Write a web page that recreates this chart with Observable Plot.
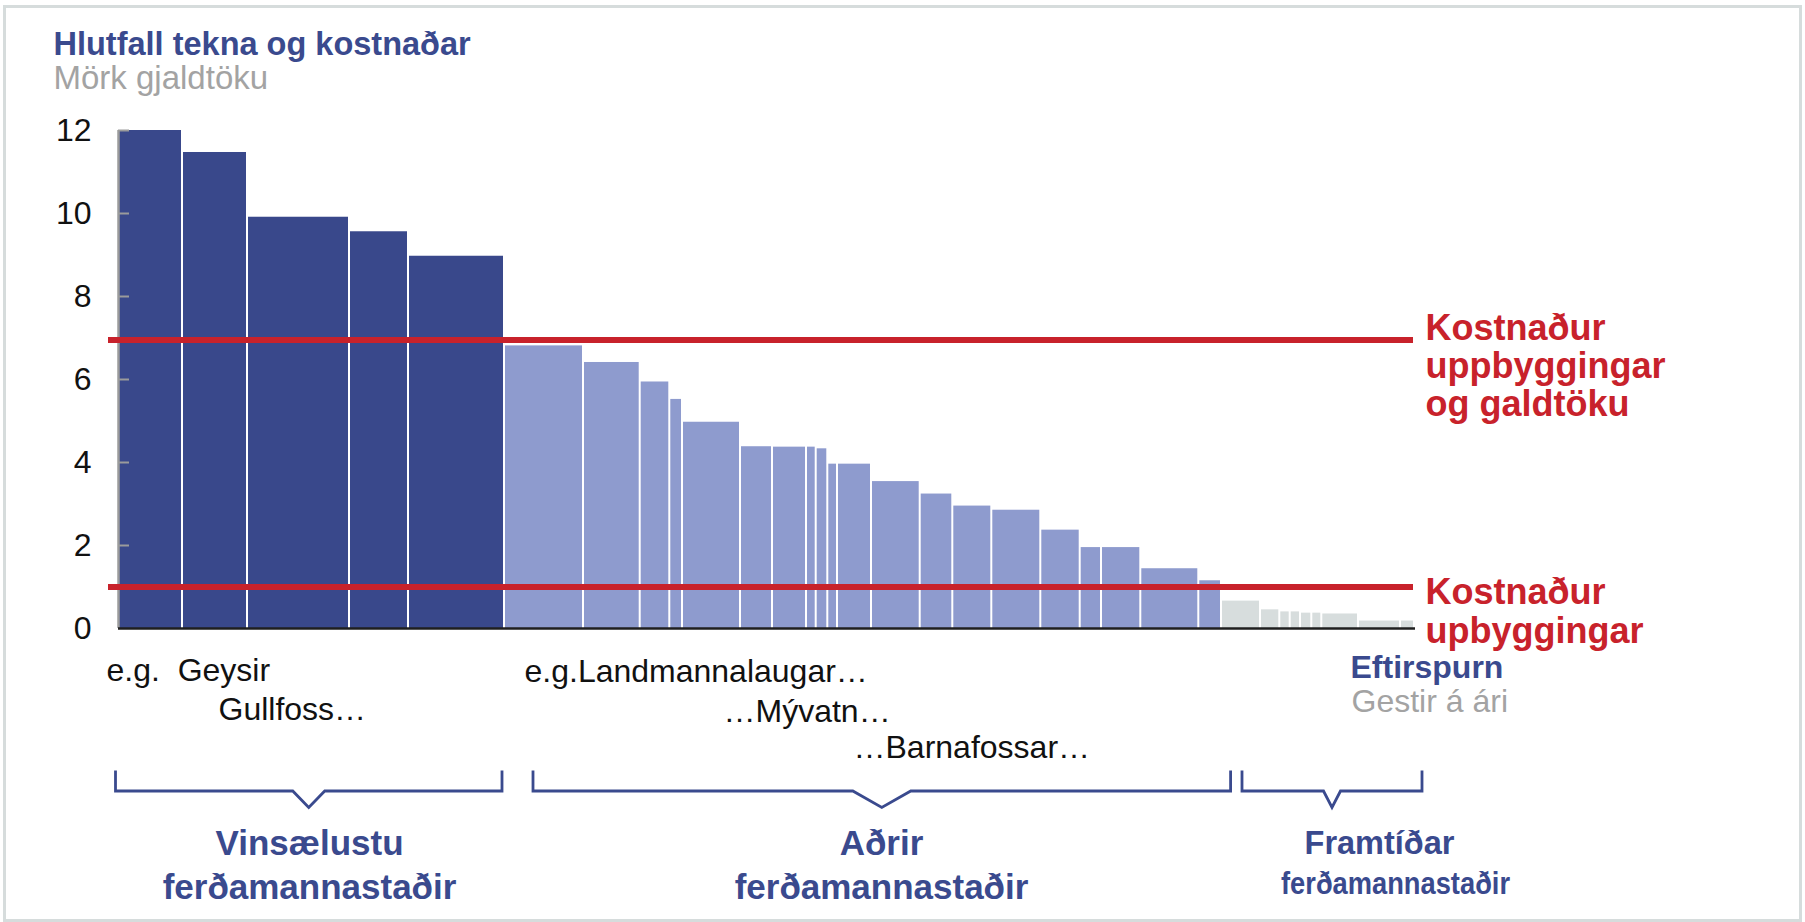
<!DOCTYPE html>
<html><head><meta charset="utf-8">
<script src="https://cdn.jsdelivr.net/npm/d3@7"></script>
<script src="https://cdn.jsdelivr.net/npm/@observablehq/plot@0.6"></script>
<style>
body{margin:0;background:#fff;}
#wrap{position:relative;width:1805px;height:922px;overflow:hidden}
#border{position:absolute;left:3px;top:4.5px;width:1799px;height:917px;border:3px solid #d6dcdc;box-sizing:border-box;pointer-events:none}
#wrap svg{position:absolute;left:0;top:0}
</style></head><body><div id="wrap"><div id="border"></div></div>
<script>
// ---- data ----
// bar widths (visitors per year, arbitrary units) and ratio of revenue to cost
const popularWidths = [65, 65, 102, 59, 96];
const popularValues = [12, 11.47, 9.91, 9.56, 8.97];
const otherWidths = [79, 56.7, 29.6, 12.7, 58, 32, 34, 9.7, 11.6, 9.7, 34, 48.7, 32.6, 39, 49, 39.4, 21.3, 39.3, 58, 22.7];
const otherValues = [6.81, 6.41, 5.94, 5.52, 4.97, 4.38, 4.37, 4.37, 4.33, 3.96, 3.96, 3.54, 3.24, 2.95, 2.85, 2.37, 1.95, 1.95, 1.44, 1.15];
const futureWidths = [39, 19.3, 10.4, 10.3, 11.3, 10, 36.7, 42, 14];
const futureValues = [0.66, 0.45, 0.40, 0.40, 0.37, 0.37, 0.35, 0.18, 0.18];
const costLevels = [6.95, 1];
const costLabels = ["Kostnaður\nuppbyggingar\nog galdtöku", "Kostnaður\nupbyggingar"];
const yTicks = [0, 2, 4, 6, 8, 10, 12];
const groupNames = ["Vinsælustu\nferðamannastaðir", "Aðrir\nferðamannastaðir", "Framtíðar", "ferðamannastaðir"];
const title = "Hlutfall tekna og kostnaðar";
const subtitle = "Mörk gjaldtöku";
const xTitle = "Eftirspurn";
const xSubtitle = "Gestir á ári";
const examples = ["e.g.\u00a0\u00a0Geysir", "Gullfoss…", "e.g.Landmannalaugar…", "…Mývatn…", "…Barnafossar…"];

// ---- build table ----
const bars = [];
let acc = 0;
const groupExtents = [];
[[popularWidths, popularValues], [otherWidths, otherValues], [futureWidths, futureValues]].forEach(([ws, vs], g) => {
  const start = acc;
  ws.forEach((w, i) => { bars.push({group: g, x1: acc, x2: acc + w, value: vs[i]}); acc += w; });
  groupExtents.push([start, acc]);
});
const total = acc;

const NAVY = "#39488b", LIGHT = "#8e9bce", GREY = "#d7dddd", RED = "#c8222b", GTEXT = "#a3a3a3", TNAVY = "#3a4a8e";
const FONT = "'Liberation Sans', Arial, Helvetica, sans-serif";

function label(text, dx, dy, o = {}) {
  return Plot.text([text], {text: d => d, frameAnchor: o.frameAnchor ?? "bottom-left", dx, dy,
    textAnchor: o.textAnchor ?? "start", lineAnchor: "bottom", fontSize: o.fontSize ?? 32,
    fontWeight: o.fontWeight ?? "normal", fill: o.fill ?? "#111", lineHeight: o.lineHeight ?? 1.25});
}

const chart = Plot.plot({
  width: 1805, height: 922,
  marginLeft: 118, marginRight: 390, marginTop: 130, marginBottom: 294,
  x: {domain: [0, total], axis: null},
  y: {domain: [0, 12]},
  style: {fontFamily: FONT, background: "transparent", overflow: "visible"},
  marks: [
    Plot.rectY(bars.filter(d => d.group === 0), {x1: "x1", x2: "x2", y: "value", fill: NAVY, insetRight: 2}),
    Plot.rectY(bars.filter(d => d.group === 1), {x1: "x1", x2: "x2", y: "value", fill: LIGHT, insetRight: 2}),
    Plot.rectY(bars.filter(d => d.group === 2), {x1: "x1", x2: "x2", y: "value", fill: GREY, insetRight: 2}),
    Plot.axisY({ticks: yTicks.filter(v => v > 0), tickSize: 11, dx: 11, fill: "none", stroke: "#9b9b9b", strokeWidth: 2, label: null}),
    Plot.axisY({ticks: yTicks, tickSize: 0, tickPadding: 27, fontSize: 32, fill: "#111", label: null}),
    Plot.ruleX([0], {stroke: "#9b9b9b", strokeWidth: 2.5}),
    Plot.ruleY([0], {stroke: "#1f1f1f", strokeWidth: 2.5}),
    Plot.ruleY(costLevels, {stroke: RED, strokeWidth: 6, insetLeft: -10, insetRight: 2}),
    Plot.text([costLabels[0]], {text: d => d, y: costLevels[0], frameAnchor: "right", dx: 10, dy: 76, textAnchor: "start", lineAnchor: "bottom", lineHeight: 1.05, fontSize: 36, fontWeight: "bold", fill: RED}),
    Plot.text([costLabels[1]], {text: d => d, y: costLevels[1], frameAnchor: "right", dx: 10, dy: 56, textAnchor: "start", lineAnchor: "bottom", lineHeight: 1.085, fontSize: 36, fontWeight: "bold", fill: RED}),
    label(title, -65, -76, {frameAnchor: "top-left", fontSize: 32.5, fontWeight: "bold", fill: TNAVY}),
    label(subtitle, -65, -42, {frameAnchor: "top-left", fontSize: 33, fill: GTEXT}),
    label(examples[0], -12, 52),
    label(examples[1], 100, 91),
    label(examples[2], 406, 53),
    label(examples[3], 605, 93),
    label(examples[4], 735, 129),
    label(xTitle, 1232, 49, {fontWeight: "bold", fill: TNAVY}),
    label(xSubtitle, 1233, 83, {fill: GTEXT}),
    label(groupNames[0], 191, 270, {textAnchor: "middle", fontSize: 35, fontWeight: "bold", fill: TNAVY, lineHeight: 1.25}),
    label(groupNames[1], 763, 270, {textAnchor: "middle", fontSize: 35, fontWeight: "bold", fill: TNAVY, lineHeight: 1.25}),
    label(groupNames[2], 1261, 225.5, {textAnchor: "middle", fontSize: 32.5, fontWeight: "bold", fill: TNAVY}),
    label(groupNames[3], 1277, 265, {textAnchor: "middle", fontSize: 32, fontWeight: "bold", fill: TNAVY})
  ]
});
document.getElementById("wrap").appendChild(chart);

// the last group caption is horizontally condensed in the original
d3.select(chart).selectAll("text").filter(function () { return this.textContent === groupNames[3]; })
  .attr("textLength", 229).attr("lengthAdjust", "spacingAndGlyphs");

// brackets under each group, positioned through the x scale
const xs = chart.scale("x");
const X = v => xs.apply(v);
const brackets = [
  {a: X(groupExtents[0][0]) - 2.5, b: X(groupExtents[0][1]) - 3, half: 16},
  {a: X(groupExtents[1][0]) + 28, b: X(groupExtents[1][1]) + 8.6, half: 29},
  {a: X(groupExtents[2][0]) + 20, b: X(groupExtents[2][1]) + 7, half: 8.5}
];
const bTop = 770.5, bBase = 791, bDepth = 16.5;
const bg = d3.select(chart).append("g").attr("fill", "none").attr("stroke", TNAVY).attr("stroke-width", 2.8).attr("stroke-linejoin", "miter");
for (const br of brackets) {
  const c = (br.a + br.b) / 2;
  bg.append("path").attr("d", `M${br.a},${bTop}V${bBase}H${c - br.half}L${c},${bBase + bDepth}L${c + br.half},${bBase}H${br.b}V${bTop}`);
}
</script></body></html>
